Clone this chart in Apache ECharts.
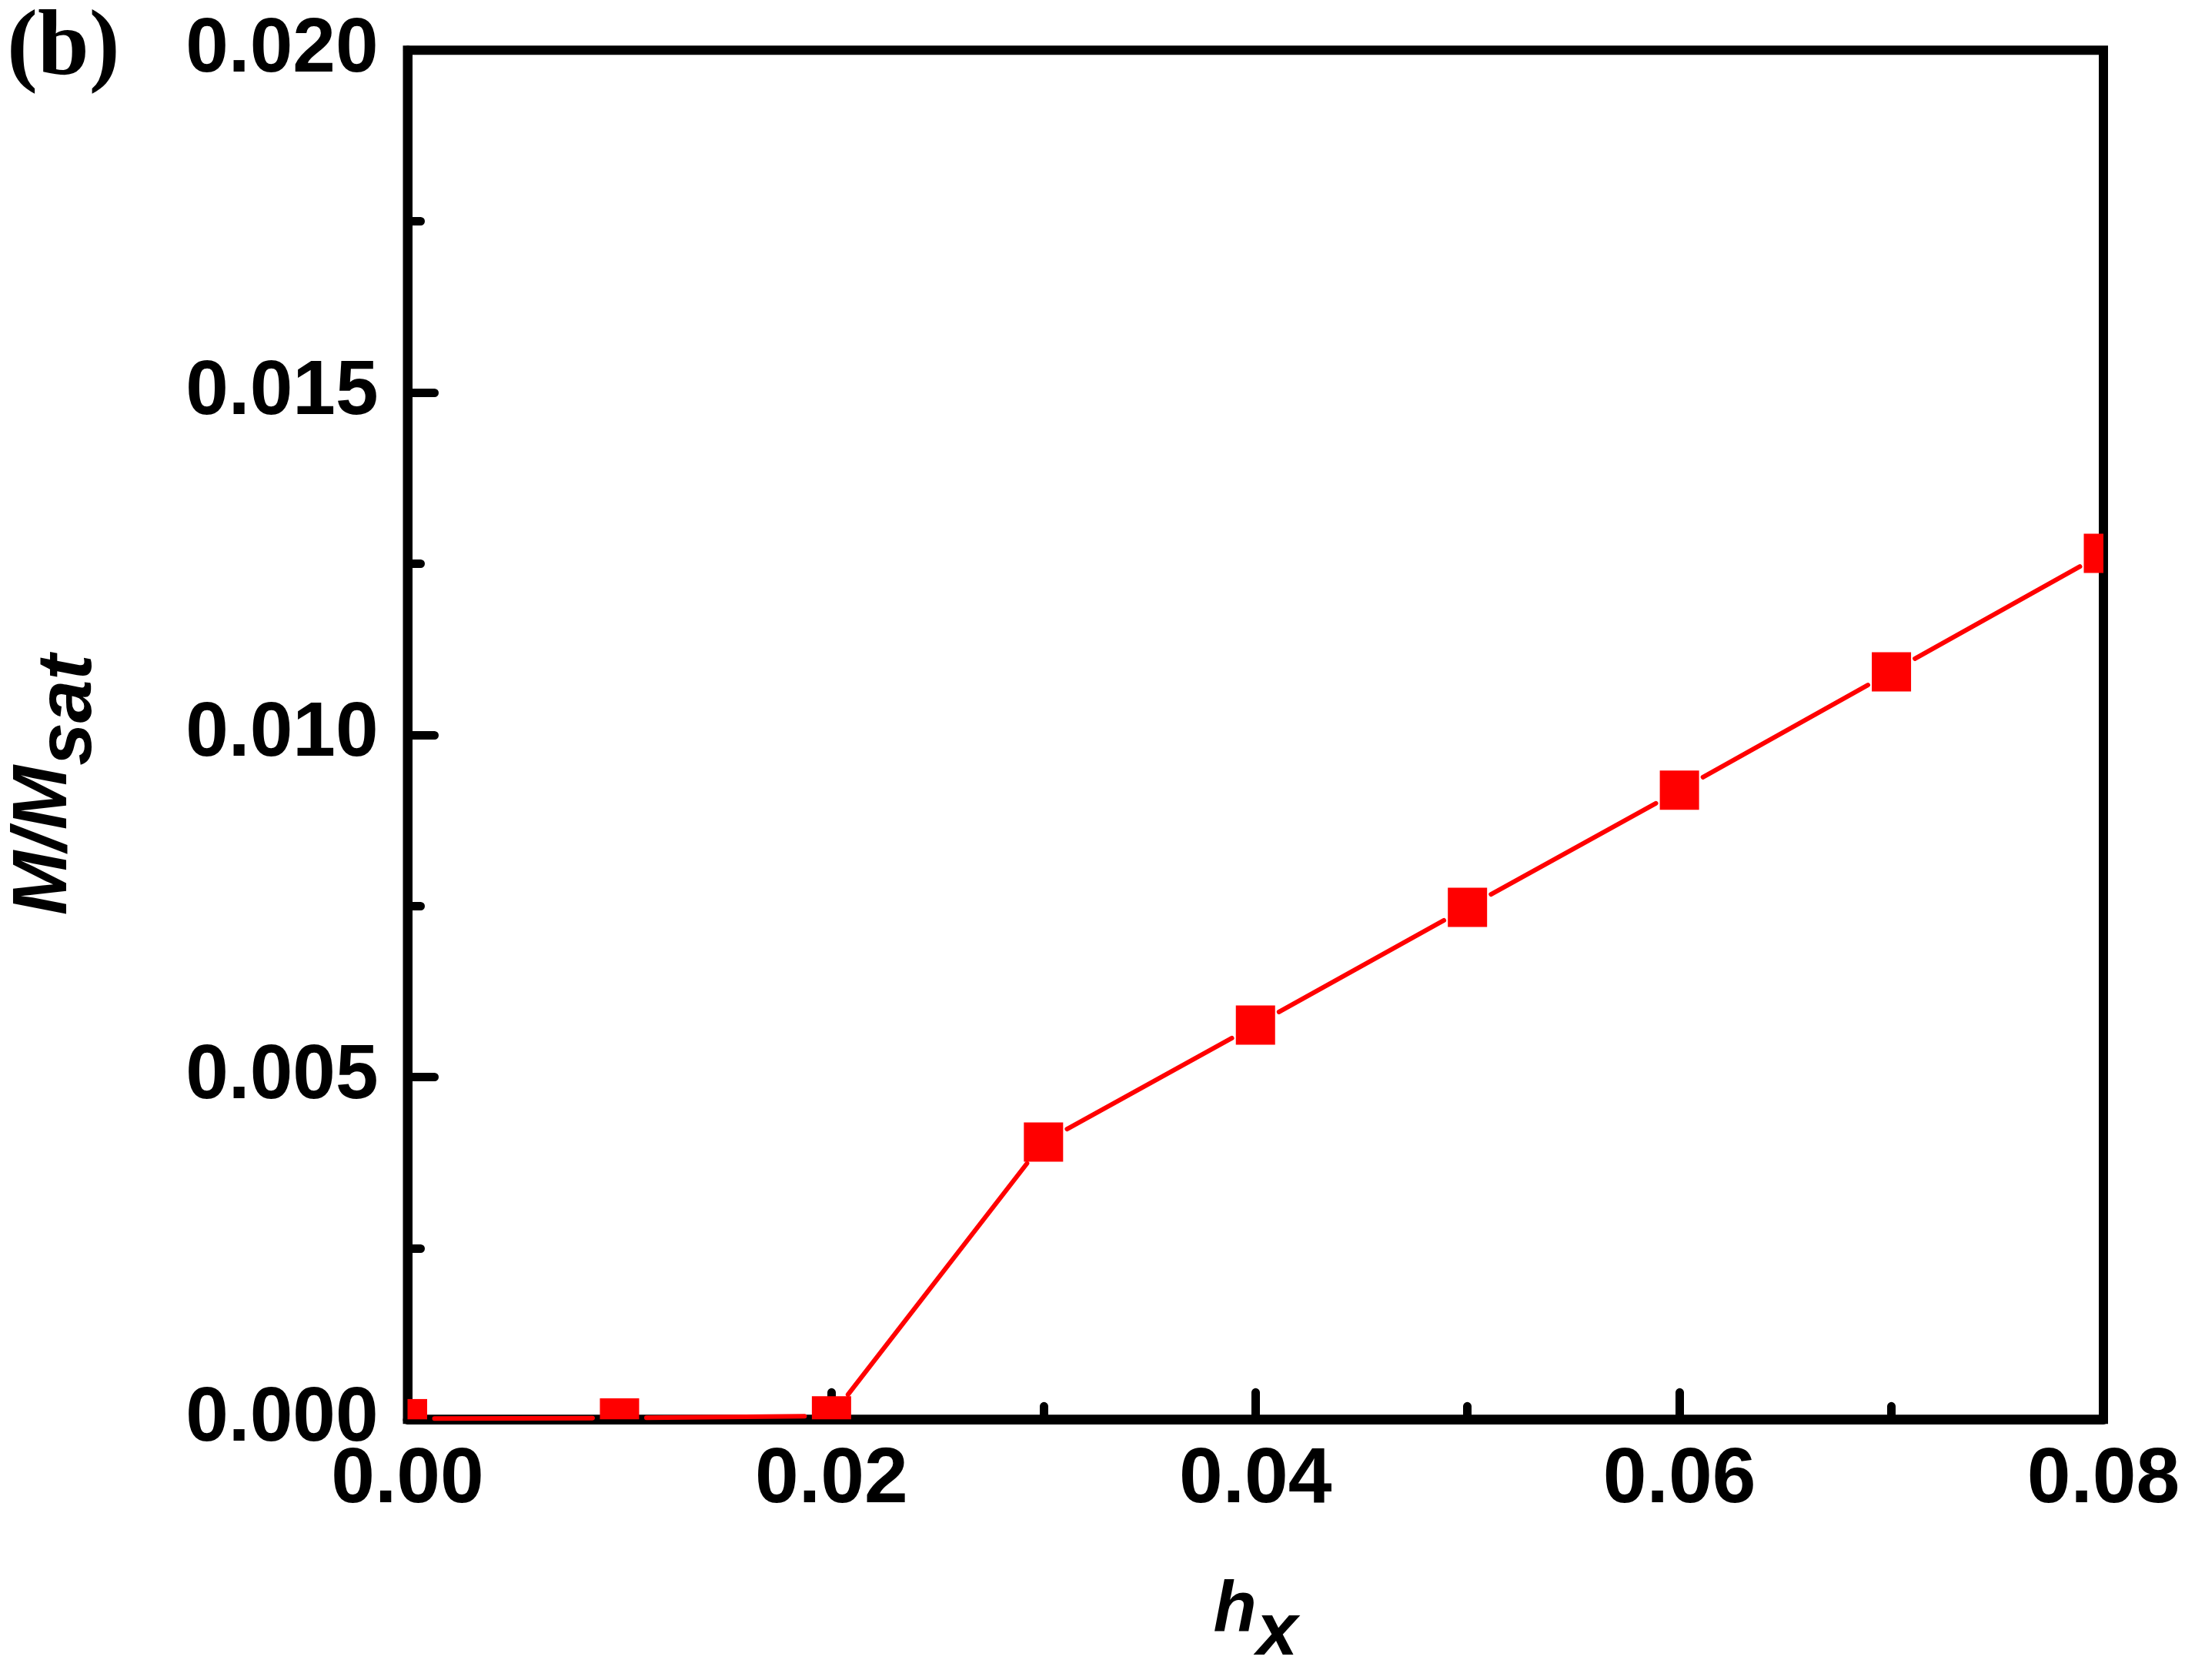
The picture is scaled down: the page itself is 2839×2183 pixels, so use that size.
<!DOCTYPE html>
<html>
<head>
<meta charset="utf-8">
<script src="https://cdn.jsdelivr.net/npm/echarts@6/dist/echarts.min.js"></script>
<style>
html,body{margin:0;padding:0;background:#fff;overflow:hidden;}
#chart{width:2839px;height:2183px;}
</style>
</head>
<body>
<div id="chart"></div>
<script>
// ---- data ----
const hxValues = [0.00, 0.01, 0.02, 0.03, 0.04, 0.05, 0.06, 0.07, 0.08];
const magValues = [0.00001, 0.00002, 0.00005, 0.00405, 0.00576, 0.00748, 0.00919, 0.01092, 0.01265];
const xTicks = ['0.00', '0.02', '0.04', '0.06', '0.08'];
const yTicks = ['0.000', '0.005', '0.010', '0.015', '0.020'];

const RED = '#FF0000';
const FONT = '"Liberation Sans", Arial, sans-serif';
const MARKER = 51;
const LINE_W = 6;
const GAP_R = 35;

const chart = echarts.init(document.getElementById('chart'), null, {renderer: 'canvas'});

const option = {
  backgroundColor: '#ffffff',
  animation: false,
  title: {
    text: '(b)',
    left: 4,
    top: 0,
    textStyle: {fontFamily: '"Liberation Serif", "Times New Roman", serif', fontWeight: 'bold', fontSize: 120, color: '#000'}
  },
  grid: {
    left: 529.5, top: 65.3, width: 2203.5, height: 1779,
    containLabel: false,
    outerBoundsMode: 'none',
    show: true, borderColor: '#000', borderWidth: 12, backgroundColor: 'transparent'
  },
  xAxis: {
    type: 'value', min: 0, max: 0.08, interval: 0.02,
    axisLine: {show: true, onZero: false, lineStyle: {color: '#000', width: 12}},
    axisTick: {show: true, inside: true, length: 35, lineStyle: {color: '#000', width: 11, cap: 'round'}},
    minorTick: {show: true, splitNumber: 2, length: 17, lineStyle: {color: '#000', width: 11, cap: 'round'}},
    splitLine: {show: false},
    axisLabel: {
      margin: 29, fontFamily: FONT, fontWeight: 'bold', fontSize: 102, color: '#000',
      formatter: function (v) { const i = Math.round(v / 0.02); return xTicks[i] !== undefined ? xTicks[i] : ''; }
    },
    name: '{h|h}{x|x}',
    nameLocation: 'middle',
    nameGap: 227,
    nameTextStyle: {
      rich: {
        h: {fontFamily: FONT, fontWeight: 'bold', fontStyle: 'italic', fontSize: 92, color: '#000', lineHeight: 100, verticalAlign: 'bottom', padding: [0, 0, 32, 0]},
        x: {fontFamily: FONT, fontWeight: 'bold', fontStyle: 'italic', fontSize: 96, color: '#000', lineHeight: 100, verticalAlign: 'bottom'}
      }
    }
  },
  yAxis: {
    type: 'value', min: 0, max: 0.02, interval: 0.005,
    axisLine: {show: true, onZero: false, lineStyle: {color: '#000', width: 12}},
    axisTick: {show: true, inside: true, length: 35, lineStyle: {color: '#000', width: 11, cap: 'round'}},
    minorTick: {show: true, splitNumber: 2, length: 17, lineStyle: {color: '#000', width: 11, cap: 'round'}},
    splitLine: {show: false},
    axisLabel: {
      margin: 38, fontFamily: FONT, fontWeight: 'bold', fontSize: 100, color: '#000',
      padding: [0, 0, 19, 0],
      formatter: function (v) { const i = Math.round(v / 0.005); return yTicks[i] !== undefined ? yTicks[i] : ''; }
    },
    name: '{m|M/M}{s|sat}',
    nameLocation: 'middle',
    nameRotate: 90,
    nameGap: 389,
    nameTextStyle: {
      padding: [0, 130, 0, 0],
      rich: {
        m: {fontFamily: FONT, fontWeight: 'bold', fontStyle: 'italic', fontSize: 100, color: '#000', lineHeight: 100, verticalAlign: 'bottom', padding: [0, 0, 32, 0]},
        s: {fontFamily: FONT, fontWeight: 'bold', fontStyle: 'italic', fontSize: 100, color: '#000', lineHeight: 100, verticalAlign: 'bottom'}
      }
    }
  },
  series: [{
    type: 'custom',
    coordinateSystem: 'cartesian2d',
    z: 5,
    data: hxValues.map(function (x, i) { return [x, magValues[i]]; }),
    encode: {x: 0, y: 1},
    renderItem: function (params, api) {
      const i = params.dataIndex;
      const p = api.coord([api.value(0), api.value(1)]);
      const cs = params.coordSys;
      const children = [];
      if (i < hxValues.length - 1) {
        const q = api.coord([hxValues[i + 1], magValues[i + 1]]);
        const dx = q[0] - p[0], dy = q[1] - p[1];
        const L = Math.sqrt(dx * dx + dy * dy);
        if (L > 2 * GAP_R) {
          const ux = dx / L, uy = dy / L;
          children.push({
            type: 'line',
            shape: {x1: p[0] + ux * GAP_R, y1: p[1] + uy * GAP_R, x2: q[0] - ux * GAP_R, y2: q[1] - uy * GAP_R},
            style: {stroke: RED, lineWidth: LINE_W, lineCap: 'round'}
          });
        }
      }
      const r = echarts.graphic.clipRectByRect(
        {x: p[0] - MARKER / 2, y: p[1] - MARKER / 2, width: MARKER, height: MARKER},
        {x: cs.x, y: cs.y, width: cs.width, height: cs.height}
      );
      if (r) {
        children.push({type: 'rect', shape: r, style: {fill: RED}});
      }
      return {type: 'group', children: children};
    }
  }]
};

chart.setOption(option);
</script>
</body>
</html>
